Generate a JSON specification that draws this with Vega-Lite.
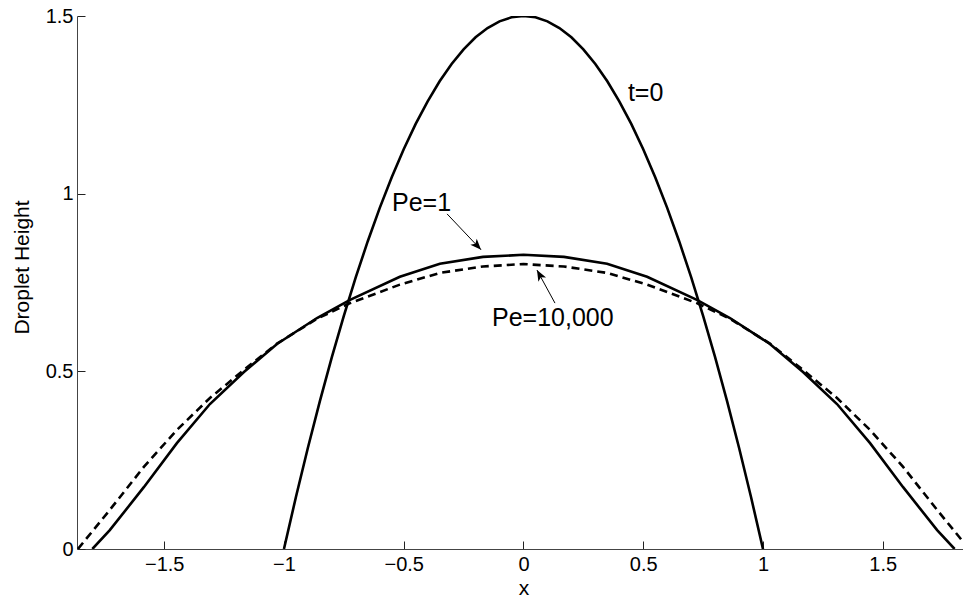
{
  "$schema": "https://vega.github.io/schema/vega-lite/v6.json",
  "width": 886,
  "height": 533,
  "autosize": "none",
  "padding": {"left": 77, "top": 16, "right": 0, "bottom": 50},
  "background": "white",
  "config": {
    "view": {"stroke": null},
    "font": "Liberation Sans",
    "axis": {
      "grid": false,
      "labelFont": "Liberation Sans",
      "titleFont": "Liberation Sans",
      "labelFontSize": 20,
      "titleFontSize": 21,
      "labelColor": "black",
      "titleColor": "black",
      "titleFontWeight": "normal",
      "domainColor": "#444",
      "tickColor": "#222",
      "tickSize": -8,
      "domainWidth": 1,
      "tickWidth": 1,
      "format": "~g"
    }
  },
  "datasets": {
    "curves": [
      {"x": -1.0, "h": 0, "series": "t=0"},
      {"x": -0.95, "h": 0.14625, "series": "t=0"},
      {"x": -0.9, "h": 0.285, "series": "t=0"},
      {"x": -0.85, "h": 0.41625, "series": "t=0"},
      {"x": -0.8, "h": 0.54, "series": "t=0"},
      {"x": -0.75, "h": 0.65625, "series": "t=0"},
      {"x": -0.7, "h": 0.765, "series": "t=0"},
      {"x": -0.65, "h": 0.86625, "series": "t=0"},
      {"x": -0.6, "h": 0.96, "series": "t=0"},
      {"x": -0.55, "h": 1.04625, "series": "t=0"},
      {"x": -0.5, "h": 1.125, "series": "t=0"},
      {"x": -0.45, "h": 1.19625, "series": "t=0"},
      {"x": -0.4, "h": 1.26, "series": "t=0"},
      {"x": -0.35, "h": 1.31625, "series": "t=0"},
      {"x": -0.3, "h": 1.365, "series": "t=0"},
      {"x": -0.25, "h": 1.40625, "series": "t=0"},
      {"x": -0.2, "h": 1.44, "series": "t=0"},
      {"x": -0.15, "h": 1.46625, "series": "t=0"},
      {"x": -0.1, "h": 1.485, "series": "t=0"},
      {"x": -0.05, "h": 1.49625, "series": "t=0"},
      {"x": 0.0, "h": 1.5, "series": "t=0"},
      {"x": 0.05, "h": 1.49625, "series": "t=0"},
      {"x": 0.1, "h": 1.485, "series": "t=0"},
      {"x": 0.15, "h": 1.46625, "series": "t=0"},
      {"x": 0.2, "h": 1.44, "series": "t=0"},
      {"x": 0.25, "h": 1.40625, "series": "t=0"},
      {"x": 0.3, "h": 1.365, "series": "t=0"},
      {"x": 0.35, "h": 1.31625, "series": "t=0"},
      {"x": 0.4, "h": 1.26, "series": "t=0"},
      {"x": 0.45, "h": 1.19625, "series": "t=0"},
      {"x": 0.5, "h": 1.125, "series": "t=0"},
      {"x": 0.55, "h": 1.04625, "series": "t=0"},
      {"x": 0.6, "h": 0.96, "series": "t=0"},
      {"x": 0.65, "h": 0.86625, "series": "t=0"},
      {"x": 0.7, "h": 0.765, "series": "t=0"},
      {"x": 0.75, "h": 0.65625, "series": "t=0"},
      {"x": 0.8, "h": 0.54, "series": "t=0"},
      {"x": 0.85, "h": 0.41625, "series": "t=0"},
      {"x": 0.9, "h": 0.285, "series": "t=0"},
      {"x": 0.95, "h": 0.14625, "series": "t=0"},
      {"x": 1.0, "h": 0, "series": "t=0"},

      {"x": -1.8, "h": 0, "series": "Pe=1"},
      {"x": -1.727, "h": 0.053, "series": "Pe=1"},
      {"x": -1.585, "h": 0.174, "series": "Pe=1"},
      {"x": -1.447, "h": 0.298, "series": "Pe=1"},
      {"x": -1.309, "h": 0.408, "series": "Pe=1"},
      {"x": -1.167, "h": 0.498, "series": "Pe=1"},
      {"x": -1.029, "h": 0.577, "series": "Pe=1"},
      {"x": -0.862, "h": 0.65, "series": "Pe=1"},
      {"x": -0.724, "h": 0.701, "series": "Pe=1"},
      {"x": -0.516, "h": 0.766, "series": "Pe=1"},
      {"x": -0.349, "h": 0.803, "series": "Pe=1"},
      {"x": -0.169, "h": 0.822, "series": "Pe=1"},
      {"x": 0.0, "h": 0.828, "series": "Pe=1"},
      {"x": 0.169, "h": 0.822, "series": "Pe=1"},
      {"x": 0.349, "h": 0.803, "series": "Pe=1"},
      {"x": 0.516, "h": 0.766, "series": "Pe=1"},
      {"x": 0.724, "h": 0.701, "series": "Pe=1"},
      {"x": 0.862, "h": 0.65, "series": "Pe=1"},
      {"x": 1.029, "h": 0.577, "series": "Pe=1"},
      {"x": 1.167, "h": 0.498, "series": "Pe=1"},
      {"x": 1.309, "h": 0.408, "series": "Pe=1"},
      {"x": 1.447, "h": 0.298, "series": "Pe=1"},
      {"x": 1.585, "h": 0.174, "series": "Pe=1"},
      {"x": 1.727, "h": 0.053, "series": "Pe=1"},
      {"x": 1.8, "h": 0, "series": "Pe=1"},

      {"x": -1.86, "h": 0, "series": "Pe=10,000"},
      {"x": -1.727, "h": 0.11, "series": "Pe=10,000"},
      {"x": -1.585, "h": 0.231, "series": "Pe=10,000"},
      {"x": -1.447, "h": 0.335, "series": "Pe=10,000"},
      {"x": -1.309, "h": 0.425, "series": "Pe=10,000"},
      {"x": -1.167, "h": 0.504, "series": "Pe=10,000"},
      {"x": -1.029, "h": 0.578, "series": "Pe=10,000"},
      {"x": -0.862, "h": 0.648, "series": "Pe=10,000"},
      {"x": -0.724, "h": 0.692, "series": "Pe=10,000"},
      {"x": -0.516, "h": 0.744, "series": "Pe=10,000"},
      {"x": -0.349, "h": 0.777, "series": "Pe=10,000"},
      {"x": -0.169, "h": 0.795, "series": "Pe=10,000"},
      {"x": 0.0, "h": 0.802, "series": "Pe=10,000"},
      {"x": 0.169, "h": 0.795, "series": "Pe=10,000"},
      {"x": 0.349, "h": 0.777, "series": "Pe=10,000"},
      {"x": 0.516, "h": 0.744, "series": "Pe=10,000"},
      {"x": 0.724, "h": 0.692, "series": "Pe=10,000"},
      {"x": 0.862, "h": 0.648, "series": "Pe=10,000"},
      {"x": 1.029, "h": 0.578, "series": "Pe=10,000"},
      {"x": 1.167, "h": 0.504, "series": "Pe=10,000"},
      {"x": 1.309, "h": 0.425, "series": "Pe=10,000"},
      {"x": 1.447, "h": 0.335, "series": "Pe=10,000"},
      {"x": 1.585, "h": 0.231, "series": "Pe=10,000"},
      {"x": 1.727, "h": 0.11, "series": "Pe=10,000"},
      {"x": 1.86, "h": 0, "series": "Pe=10,000"}
    ],
    "labels": [
      {"x": 0.436, "h": 1.283, "text": "t=0"},
      {"x": -0.549, "h": 0.974, "text": "Pe=1"},
      {"x": -0.1315, "h": 0.65, "text": "Pe=10,000"}
    ],
    "arrows": [
      {"x": -0.319, "h": 0.943, "x2": -0.177, "h2": 0.842, "target": "Pe=1"},
      {"x": 0.1315, "h": 0.692, "x2": 0.0564, "h2": 0.785, "target": "Pe=10,000"}
    ]
  },
  "encoding": {
    "x": {
      "field": "x",
      "type": "quantitative",
      "scale": {"domain": [-1.864, 1.835], "nice": false, "zero": false},
      "axis": {
        "title": "x",
        "values": [-1.5, -1, -0.5, 0, 0.5, 1, 1.5],
        "labelPadding": 13,
        "titleX": 446.5,
        "titleY": 39,
        "titleBaseline": "middle",
        "titleAlign": "center"
      }
    },
    "y": {
      "field": "h",
      "type": "quantitative",
      "scale": {"domain": [0, 1.5], "nice": false},
      "axis": {
        "title": "Droplet Height",
        "values": [0, 0.5, 1, 1.5],
        "labelPadding": 12,
        "labelBaseline": "middle",
        "titleX": -55,
        "titleY": 251,
        "titleAngle": -90,
        "titleBaseline": "middle",
        "titleAlign": "center"
      }
    }
  },
  "layer": [
    {
      "data": {"name": "curves"},
      "transform": [{"filter": "datum.series === 't=0'"}],
      "mark": {"type": "line", "color": "black", "strokeWidth": 2.6, "clip": true}
    },
    {
      "data": {"name": "curves"},
      "transform": [{"filter": "datum.series === 'Pe=1'"}],
      "mark": {"type": "line", "color": "black", "strokeWidth": 2.6, "clip": true}
    },
    {
      "data": {"name": "curves"},
      "transform": [{"filter": "datum.series === 'Pe=10,000'"}],
      "mark": {"type": "line", "color": "black", "strokeWidth": 2.6, "strokeDash": [8, 5], "clip": true}
    },
    {
      "data": {"name": "arrows"},
      "mark": {"type": "rule", "color": "black", "strokeWidth": 1},
      "encoding": {
        "x2": {"field": "x2"},
        "y2": {"field": "h2"}
      }
    },
    {
      "data": {"name": "arrows"},
      "transform": [{"filter": "datum.target === 'Pe=1'"}],
      "mark": {
        "type": "point",
        "shape": "M0,0 L-0.4,1 L0,0.75 L0.4,1 Z",
        "size": 480,
        "filled": true,
        "color": "black",
        "opacity": 1,
        "angle": 136.6
      },
      "encoding": {
        "x": {"field": "x2", "type": "quantitative"},
        "y": {"field": "h2", "type": "quantitative"}
      }
    },
    {
      "data": {"name": "arrows"},
      "transform": [{"filter": "datum.target === 'Pe=10,000'"}],
      "mark": {
        "type": "point",
        "shape": "M0,0 L-0.4,1 L0,0.75 L0.4,1 Z",
        "size": 480,
        "filled": true,
        "color": "black",
        "opacity": 1,
        "angle": 331.4
      },
      "encoding": {
        "x": {"field": "x2", "type": "quantitative"},
        "y": {"field": "h2", "type": "quantitative"}
      }
    },
    {
      "data": {"name": "labels"},
      "mark": {
        "type": "text",
        "align": "left",
        "baseline": "middle",
        "fontSize": 25,
        "font": "Liberation Sans",
        "color": "black"
      },
      "encoding": {
        "text": {"field": "text"}
      }
    }
  ]
}
